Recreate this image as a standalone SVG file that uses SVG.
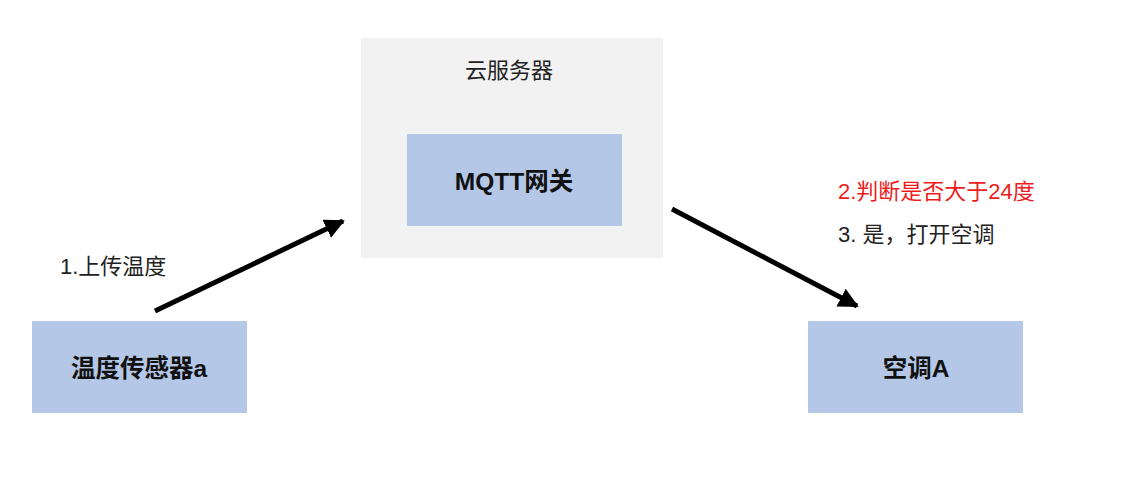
<svg xmlns="http://www.w3.org/2000/svg" width="1129" height="499" viewBox="0 0 1129 499">
<style>
.box{fill:#b4c7e7}
.lbl{font-family:"Liberation Sans","Noto Sans CJK SC",sans-serif;font-size:22px;fill:#222}
.bold{font-family:"Liberation Sans","Noto Sans CJK SC",sans-serif;font-size:24.5px;font-weight:bold;fill:#111;text-anchor:middle}
.edge{stroke:#000;stroke-width:5;fill:none}
</style>
<defs>
<marker id="ah" viewBox="0 0 10 10" refX="9" refY="5" markerWidth="4" markerHeight="4" markerUnits="strokeWidth" orient="auto">
<path d="M0,0 L10,5 L0,10 z" fill="#000"/>
</marker>
</defs>
<rect width="1129" height="499" fill="#fff"/>
<g id="cloud">
<rect x="361" y="38" width="302" height="220" fill="#f2f2f2"/>
<text class="lbl" x="509" y="78" text-anchor="middle">云服务器</text>
</g>
<g id="mqtt">
<rect class="box" x="407" y="134" width="215" height="92"/>
<text class="bold" x="514" y="190">MQTT网关</text>
</g>
<g id="sensor">
<rect class="box" x="32" y="321" width="215" height="92"/>
<text class="bold" x="139" y="377">温度传感器a</text>
</g>
<g id="ac">
<rect class="box" x="808" y="321" width="215" height="92"/>
<text class="bold" x="916" y="377">空调A</text>
</g>
<g id="labels">
<text class="lbl" x="60" y="274">1.上传温度</text>
<text class="lbl" x="838" y="199" style="fill:#ee1c1c">2.判断是否大于24度</text>
<text class="lbl" x="838" y="242">3. 是，打开空调</text>
</g>
<g id="connectors">
<line class="edge" x1="155" y1="311" x2="343" y2="221" marker-end="url(#ah)"/>
<line class="edge" x1="672" y1="209" x2="857" y2="306" marker-end="url(#ah)"/>
</g>
</svg>
